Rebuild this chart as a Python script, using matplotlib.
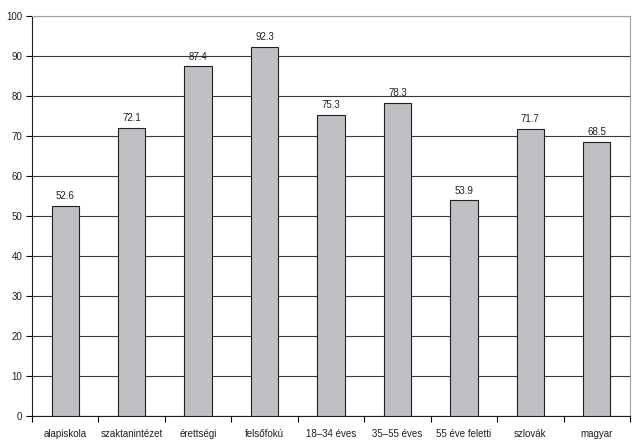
import matplotlib
matplotlib.use("Agg")
import matplotlib.pyplot as plt
import numpy as np

categories = ["alapiskola", "szaktanintézet", "érettségi", "felsőfokú", "18–34 éves",
              "35–55 éves", "55 éve feletti", "szlovák", "magyar"]
values = [52.6, 72.1, 87.4, 92.3, 75.3, 78.3, 53.9, 71.7, 68.5]
yticks = list(range(0, 101, 10))

plt.rcParams['font.family'] = ['Liberation Sans', 'DejaVu Sans']

fig = plt.figure(figsize=6.4 * np.array([1, 447 / 640]), dpi=100)
ax = fig.add_axes([32 / 640, 1 - 416 / 447, 598 / 640, 400 / 447])

fs = 7.0
x = np.arange(len(categories))
ax.bar(x, values, width=0.41, color="#c0bfc4", edgecolor="#202020", linewidth=0.8, zorder=3)
for xi, v in zip(x, values):
    ax.text(xi, v + 1.2, f"{v:.1f}", ha="center", va="bottom", fontsize=fs, color="#202020")

ax.set_xlim(-0.5, len(categories) - 0.5)
ax.set_ylim(0, 100)
ax.set_yticks(yticks)
ax.set_yticklabels([str(t) for t in yticks], fontsize=fs, color="#202020")
ax.set_xticks(x)
ax.set_xticklabels(categories, fontsize=fs, color="#202020")
ax.set_xticks(np.arange(-0.5, len(categories), 1), minor=True)
ax.tick_params(axis="x", which="major", length=0, pad=9)
ax.tick_params(axis="x", which="minor", length=4, width=0.8, direction="out")
ax.tick_params(axis="y", length=4, width=0.8, direction="out", pad=3)

ax.yaxis.grid(True, color="#383838", linewidth=0.8, zorder=0)
ax.set_axisbelow(True)
ax.spines["left"].set_color("#202020")
ax.spines["bottom"].set_color("#202020")
ax.spines["top"].set_color("#a0a0a0")
ax.spines["right"].set_color("#a0a0a0")

fig.savefig("out.png", dpi=100)
